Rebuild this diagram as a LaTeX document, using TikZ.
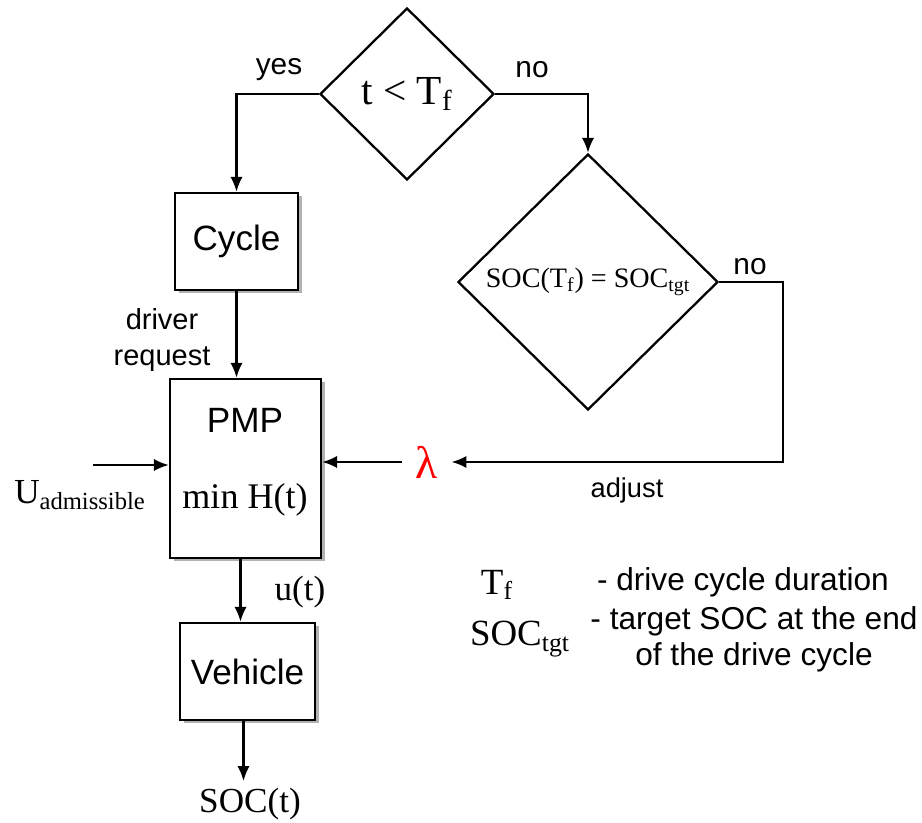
\documentclass[tikz,border=0pt]{standalone}
\usepackage{fontspec}
\setmainfont{Liberation Sans}
\newfontfamily\tms{Liberation Serif}
\usepackage{xcolor}
\usetikzlibrary{shapes.geometric,arrows.meta,calc,shadows}

\begin{document}
\begin{tikzpicture}[line width=1.3pt, >={Latex[length=8.5pt,width=7pt]},
    box/.style={draw, fill=white, inner sep=0pt,
      drop shadow={shadow xshift=0.07cm, shadow yshift=-0.07cm, fill=black!30, opacity=1},
      font=\fontsize{20}{24}\selectfont},
    decision/.style={diamond, draw, fill=white, inner sep=0pt},
    lbl/.style={font=\fontsize{16.5}{20}\selectfont},
    serif/.style={font=\tms\fontsize{20}{24}\selectfont}]
  \useasboundingbox (0,0) rectangle (18.44,16.46);

  % Decisions
  \node[decision, minimum width=3.48cm, minimum height=3.44cm,
    font=\tms\fontsize{23.5}{26}\selectfont] (tcheck) at (8.14,14.58) {t < T\textsubscript{f}};
  \node[decision, minimum width=5.2cm, minimum height=5.12cm,
    font=\tms\fontsize{16}{19}\selectfont] (soccheck) at (11.76,10.82) {SOC(T\textsubscript{f}) = SOC\textsubscript{tgt}};

  % Blocks
  \node[box, minimum width=2.46cm, minimum height=1.94cm] (cycle) at (4.73,11.63) {Cycle};
  \node[box, minimum width=3.02cm, minimum height=3.58cm] (pmp) at (4.91,7.09) {};
  \node[font=\fontsize{20}{24}\selectfont] (pmptitle) at (4.9,8.06) {PMP};
  \node[serif, font=\tms\fontsize{20.5}{24}\selectfont] (minh) at (4.9,6.46) {min H(t)};
  \node[box, minimum width=2.7cm, minimum height=1.94cm] (vehicle) at (4.95,3.03) {Vehicle};

  % Signals
  \node[serif] (soct) at (5.0,0.38) {SOC(t)};
  \node[serif] (uadm) at (1.6,6.56) {U\textsubscript{admissible}};
  \coordinate (uin) at (1.86,7.16);
  \node[text=red, inner sep=7pt, font=\tms\fontsize{26}{30}\selectfont] (lambda) at (8.54,7.22) {λ};
  \node[serif] (ut) at (6.0,4.62) {u(t)};

  % Connectors
  \draw[->] (tcheck.west) -| (cycle.north);
  \draw[->] (tcheck.east) -| (soccheck.north);
  \draw[->] (soccheck.east) -- ++(1.28,0) |- (lambda.east);
  \draw[->] (lambda.west) -- (lambda.west -| pmp.east);
  \draw[->] (uin) -- (uin -| pmp.west);
  \draw[->] (cycle.south) -- (cycle.south |- pmp.north);
  \draw[->] ([xshift=-0.1cm]pmp.south) -- ([xshift=-0.1cm]pmp.south |- vehicle.north);
  \draw[->] ([xshift=-0.08cm]vehicle.south) -- ([xshift=-0.08cm]vehicle.south |- soct.north);

  % Connector labels
  \node[lbl, font=\fontsize{17}{20}\selectfont] (yes) at (5.58,15.06) {yes};
  \node[lbl, font=\fontsize{17}{20}\selectfont] (no1) at (10.64,15.06) {no};
  \node[lbl, font=\fontsize{17}{20}\selectfont] (no2) at (15.0,11.12) {no};
  \node[lbl, font=\fontsize{15.5}{19}\selectfont] (adjust) at (12.54,6.66) {adjust};
  \node[lbl, align=center] (request) at (3.24,9.66) {driver\\request};

  % Legend
  \node[serif, font=\tms\fontsize{21}{24}\selectfont] (tf) at (9.94,4.76) {T\textsubscript{f}};
  \node[anchor=west, font=\fontsize{18}{21}\selectfont] (tfdesc) at (11.8,4.82) {- drive cycle duration};
  \node[serif, font=\tms\fontsize{21}{24}\selectfont] (soctgt) at (10.4,3.68) {SOC\textsubscript{tgt}};
  \node[align=center, font=\fontsize{18}{20.5}\selectfont] (soctgtdesc) at (15.08,3.68) {- target SOC at the end\\of the drive cycle};
\end{tikzpicture}
\end{document}
